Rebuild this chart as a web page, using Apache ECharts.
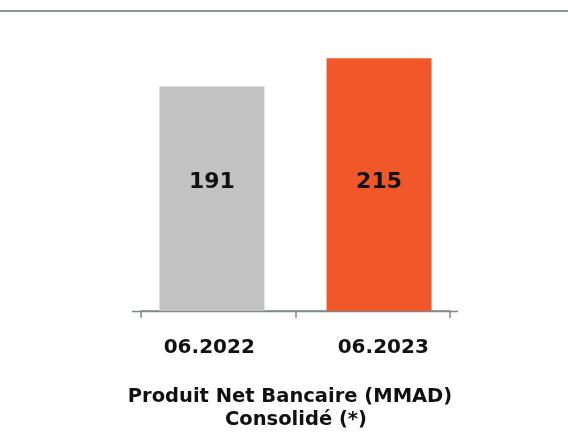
<!DOCTYPE html>
<html>
<head>
<meta charset="utf-8">
<script src="https://cdn.jsdelivr.net/npm/echarts@6/dist/echarts.min.js"></script>
<style>
html, body { margin: 0; padding: 0; background: #fff; }
#myChart { width: 568px; height: 437px; }
</style>
</head>
<body>
<div id="myChart"></div>
<script>
// data
const categories = ['06.2022', '06.2023']
const pnb2022 = [191, '-']
const pnb2023 = ['-', 215]
const titleLines = ['Produit Net Bancaire (MMAD)', 'Consolidé (*)']

const axisGray = '#7f898d'
const fontFam = 'DejaVu Sans'

const myChart = echarts.init(document.getElementById('myChart'))

const barLabel = {
	show: true,
	position: 'insideBottom',
	distance: 118,
	color: '#111',
	fontFamily: fontFam,
	fontWeight: 'bold',
	fontSize: 22
}

const option = {
	animation: false,
	title: [
		{
			text: titleLines[0],
			left: 285,
			top: 382,
			textAlign: 'center',
			textStyle: { fontFamily: fontFam, fontWeight: 'bold', fontSize: 19.5, color: '#111' }
		},
		{
			text: titleLines[1],
			left: 291,
			top: 405,
			textAlign: 'center',
			textStyle: { fontFamily: fontFam, fontWeight: 'bold', fontSize: 19.5, color: '#111' }
		}
	],
	grid: { left: 141, right: 118, top: 17, bottom: 126 },
	xAxis: {
		type: 'category',
		data: [
			{ value: categories[0], textStyle: { padding: [0, 18, 0, 0] } },
			{ value: categories[1], textStyle: { padding: [0, 0, 0, 21] } }
		],
		axisLine: { show: true, lineStyle: { color: axisGray, width: 1.5 } },
		axisTick: { show: true, length: 7, lineStyle: { color: axisGray, width: 1.5 } },
		axisLabel: {
			margin: 27,
			color: '#111',
			fontFamily: fontFam,
			fontWeight: 'bold',
			fontSize: 20
		}
	},
	yAxis: {
		type: 'value',
		min: 0,
		max: 250,
		show: false,
		splitLine: { show: false }
	},
	series: [
		{
			name: '2022',
			type: 'bar',
			data: pnb2022,
			barWidth: 105,
			barGap: '-88%',
			itemStyle: { color: '#c1c2c1' },
			label: barLabel
		},
		{
			name: '2023',
			type: 'bar',
			data: pnb2023,
			barWidth: 105,
			itemStyle: { color: '#f05729' },
			label: barLabel
		}
	],
	graphic: [
		// top rule
		{ type: 'line', shape: { x1: 0, y1: 11, x2: 568, y2: 11 }, style: { stroke: '#8c979c', lineWidth: 2 }, silent: true },
		// axis line runs a bit past the outer ticks
		{ type: 'line', shape: { x1: 132, y1: 311.5, x2: 458, y2: 311.5 }, style: { stroke: axisGray, lineWidth: 1.5 }, z: -1, silent: true }
	]
}

myChart.setOption(option)
</script>
</body>
</html>
